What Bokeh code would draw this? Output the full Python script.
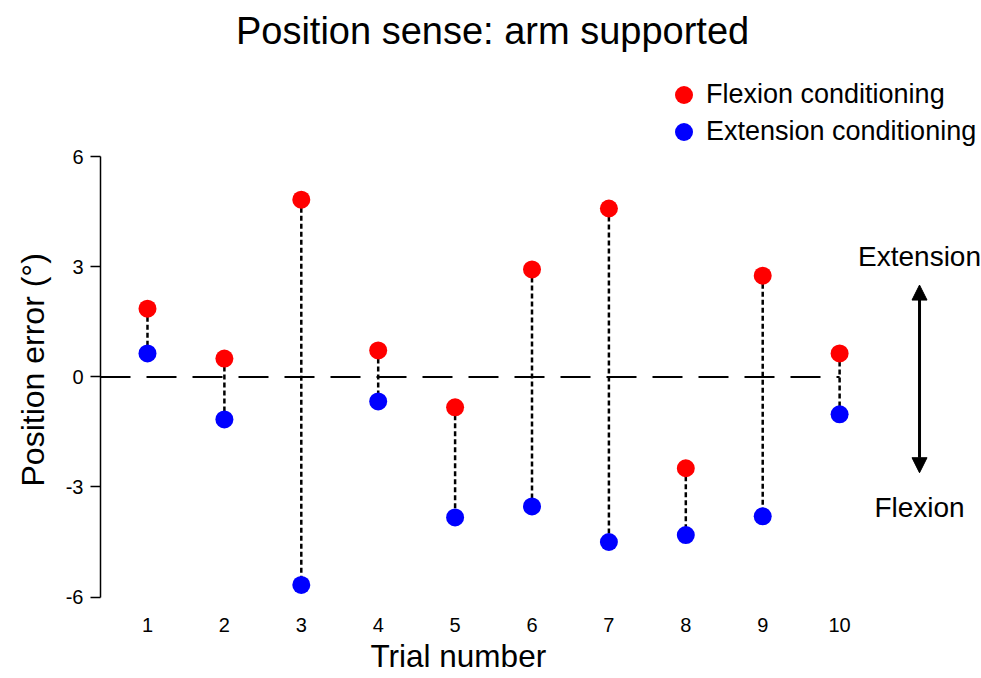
from bokeh.plotting import figure
from bokeh.models import (ColumnDataSource, Legend, LegendItem, Label, Arrow,
                          NormalHead, FixedTicker, Range1d, Title)
from bokeh.embed import file_html
from bokeh.resources import INLINE

# ---- data ----
trials = [1, 2, 3, 4, 5, 6, 7, 8, 9, 10]
flexion = [1.86, 0.50, 4.83, 0.72, -0.83, 2.93, 4.59, -2.49, 2.76, 0.64]
extension = [0.64, -1.16, -5.67, -0.67, -3.83, -3.53, -4.50, -4.31, -3.80, -1.02]
y_ticks = [-6, -3, 0, 3, 6]
y_tick_labels = {-6: "-6", -3: "-3", 0: "0", 3: "3", 6: "6"}
title_text = "Position sense: arm supported"
x_label = "Trial number"
y_label = "Position error (°)"
legend_labels = ["Flexion conditioning", "Extension conditioning"]
direction_labels = ["Extension", "Flexion"]

FONT = "Liberation Sans"

X0, X1 = 0.389, 11.832
Y0, Y1 = -6.122, 10.259

p = figure(width=980, height=678, output_backend="svg", toolbar_location=None,
           x_range=Range1d(X0, X1), y_range=Range1d(Y0, Y1),
           min_border_left=100, min_border_right=0, min_border_top=0,
           min_border_bottom=76)
p.outline_line_color = None
p.grid.visible = False
p.background_fill_color = "white"
p.border_fill_color = "white"

src = ColumnDataSource(dict(x=trials, f=flexion, e=extension))

# zero reference line
p.segment(x0=[X0], y0=[0], x1=[trials[-1]], y1=[0], line_color="black",
          line_width=2, line_dash="30 16")

# connecting dashed lines
p.segment(x0="x", y0="f", x1="x", y1="e", source=src, line_color="black",
          line_width=2.5, line_dash="5 3")

r_f = p.scatter("x", "f", source=src, size=18, fill_color="#ff0000",
                line_color=None)
r_e = p.scatter("x", "e", source=src, size=18, fill_color="#0000ff",
                line_color=None)

# axes
xa = p.xaxis[0]
xa.ticker = FixedTicker(ticks=trials)
xa.axis_line_color = None
xa.major_tick_line_color = None
xa.minor_tick_line_color = None
xa.major_tick_out = 0
xa.major_tick_in = 0
xa.major_label_standoff = 16
xa.major_label_text_font = FONT
xa.major_label_text_font_size = "20px"
xa.major_label_text_color = "black"

ya = p.yaxis[0]
ya.ticker = FixedTicker(ticks=y_ticks)
ya.major_label_overrides = y_tick_labels
ya.bounds = (y_ticks[0], y_ticks[-1])
ya.axis_line_width = 1.5
ya.axis_line_color = "black"
ya.major_tick_line_width = 1.5
ya.major_tick_out = 10
ya.major_tick_in = 0
ya.minor_tick_line_color = None
ya.major_label_standoff = 7
ya.major_label_text_font = FONT
ya.major_label_text_font_size = "20px"
ya.major_label_text_color = "black"

# axis titles as side titles so they can be offset like the reference
p.add_layout(Title(text=x_label, align="left", offset=270, standoff=6,
                   vertical_align="top",
                   text_font=FONT, text_font_size="31.5px",
                   text_font_style="normal", text_color="black"), "below")
p.add_layout(Title(text=y_label, align="left", offset=115, standoff=24,
                   text_font=FONT, text_font_size="32px",
                   text_font_style="normal", text_color="black"), "left")

# title
p.add_layout(Label(x=5.487, y=9.43, text=title_text, text_font=FONT,
                   text_font_size="38px", text_align="center",
                   text_baseline="middle", text_color="black"))

# legends (one per entry so the rows sit close together)
common = dict(glyph_width=45, glyph_height=45, label_standoff=0, padding=0,
              margin=0, border_line_color=None, background_fill_alpha=0,
              label_text_font=FONT, label_text_font_size="27px",
              label_text_color="black")
p.add_layout(Legend(items=[LegendItem(label=legend_labels[0], renderers=[r_f])],
                    location=(561, 484), **common))
p.add_layout(Legend(items=[LegendItem(label=legend_labels[1], renderers=[r_e])],
                    location=(561, 447), **common))

# direction annotation
ax = 11.039
p.add_layout(Arrow(x_start=ax, y_start=2.503, x_end=ax, y_end=-2.612,
                   line_width=3, line_color="black",
                   start=NormalHead(size=15, fill_color="black", line_color="black"),
                   end=NormalHead(size=15, fill_color="black", line_color="black")))
p.add_layout(Label(x=ax, y=3.293, text=direction_labels[0], text_font=FONT,
                   text_font_size="28px", text_align="center",
                   text_baseline="middle", text_color="black"))
p.add_layout(Label(x=ax, y=-3.565, text=direction_labels[1], text_font=FONT,
                   text_font_size="28px", text_align="center",
                   text_baseline="middle", text_color="black"))

open("out.html", "w").write(file_html(p, INLINE))
